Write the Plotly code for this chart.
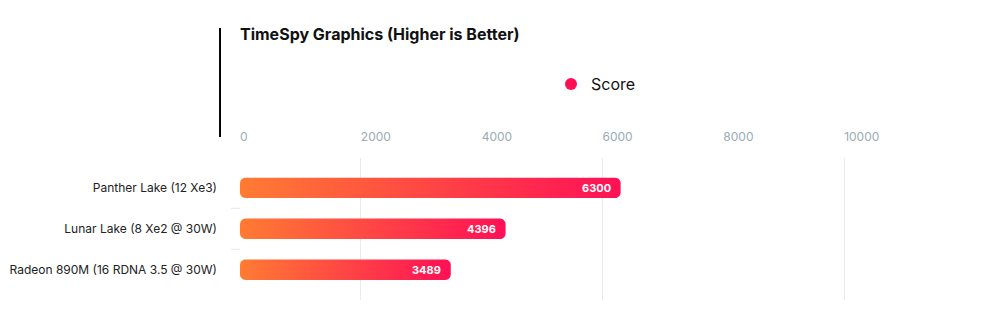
import numpy as np
import plotly.graph_objects as go

# ---- data ----
categories = ["Panther Lake (12 Xe3)", "Lunar Lake (8 Xe2 @ 30W)", "Radeon 890M (16 RDNA 3.5 @ 30W)"]
scores = [6300, 4396, 3489]
series_name = "Score"
x_ticks = [0, 2000, 4000, 6000, 8000, 10000]
title_text = "TimeSpy Graphics (Higher is Better)"

# ---- layout geometry ----
W, H = 993, 309
ML, MR, MT, MB = 239.5, 27.5, 158, 9
XR = [0, 12000]
YR = [2.74, -0.73]
plot_w = W - ML - MR
plot_h = H - MT - MB
px_per_x = plot_w / (XR[1] - XR[0])
px_per_y = plot_h / abs(YR[0] - YR[1])

ORANGE = "#ff7b33"
PINK = "#ff1056"
BAR_HALF = 0.25      # half of bar thickness in category units
RADIUS_PX = 5.5

fig = go.Figure()

def rounded_rect(x0, x1, yc, half, r_px):
    rx = r_px / px_per_x
    ry = r_px / px_per_y
    y0, y1 = yc - half, yc + half
    t = np.linspace(0, np.pi / 2, 8)
    xs, ys = [], []
    for a in t:
        xs.append(x0 + rx - rx * np.cos(a)); ys.append(y0 + ry - ry * np.sin(a))
    for a in t:
        xs.append(x1 - rx + rx * np.sin(a)); ys.append(y0 + ry - ry * np.cos(a))
    for a in t:
        xs.append(x1 - rx + rx * np.cos(a)); ys.append(y1 - ry + ry * np.sin(a))
    for a in t:
        xs.append(x0 + rx - rx * np.sin(a)); ys.append(y1 - ry + ry * np.cos(a))
    xs.append(xs[0]); ys.append(ys[0])
    return xs, ys

for i, (cat, v) in enumerate(zip(categories, scores)):
    xs, ys = rounded_rect(0, v, i, BAR_HALF, RADIUS_PX)
    fig.add_trace(go.Scatter(
        x=xs, y=ys, mode="lines", fill="toself",
        line=dict(width=0, color=PINK),
        fillgradient=dict(type="horizontal", colorscale=[[0, ORANGE], [1, PINK]]),
        showlegend=False, hoverinfo="skip",
    ))
    fig.add_annotation(x=v, y=i, xref="x", yref="y", text=f"<b>{v}</b>",
                       showarrow=False, xanchor="right", xshift=-8,
                       font=dict(family="Inter", size=11, color="white"))

# legend entry
fig.add_trace(go.Scatter(x=[None], y=[None], mode="markers", name=series_name,
                         marker=dict(symbol="circle", size=12, color=PINK)))

fig.update_layout(
    width=W, height=H,
    margin=dict(l=ML, r=MR, t=MT, b=MB, pad=0, autoexpand=False),
    paper_bgcolor="white", plot_bgcolor="white",
    font=dict(family="Inter", color="#222"),
    title=dict(text=f"<b>{title_text}</b>", x=0, xref="paper", xanchor="left",
               y=1 - 34 / H, yref="container", yanchor="middle",
               font=dict(family="Inter", size=16, color="#111")),
    showlegend=True,
    legend=dict(orientation="h", x=(596 - ML) / plot_w, xanchor="center",
                y=1 + (158 - 84) / plot_h, yanchor="middle",
                font=dict(family="Inter", size=16, color="#111"),
                bgcolor="rgba(0,0,0,0)"),
    xaxis=dict(range=XR, side="top", tickvals=x_ticks, ticktext=[str(t) for t in x_ticks],
               ticklabelposition="outside right", ticks="", showgrid=False,
               zeroline=False, showline=False, ticklabelstandoff=14, automargin=False,
               tickfont=dict(family="Inter", size=12, color="#9aabb5"),
               minor=dict(tick0=2000, dtick=4000, showgrid=True, gridcolor="#e9ecee", gridwidth=1)),
    yaxis=dict(range=YR, tickvals=list(range(len(categories))), ticktext=categories,
               tickmode="array", showgrid=False, zeroline=False, showline=False,
               ticks="", ticklabelstandoff=22, automargin=False,
               tickfont=dict(family="Inter", size=12, color="#222")),
    shapes=[
        dict(type="line", xref="paper", yref="paper",
             x0=(219.5 - ML) / plot_w, x1=(219.5 - ML) / plot_w,
             y0=1 + (158 - 137) / plot_h, y1=1 + (158 - 28) / plot_h,
             line=dict(color="black", width=2)),
    ] + [
        dict(type="line", xref="paper", yref="y",
             x0=-9 / plot_w, x1=0, y0=b, y1=b,
             line=dict(color="#e3e8ec", width=1))
        for b in [i + 0.5 for i in range(len(categories) - 1)]
    ],
)

fig.write_html("out.html")
